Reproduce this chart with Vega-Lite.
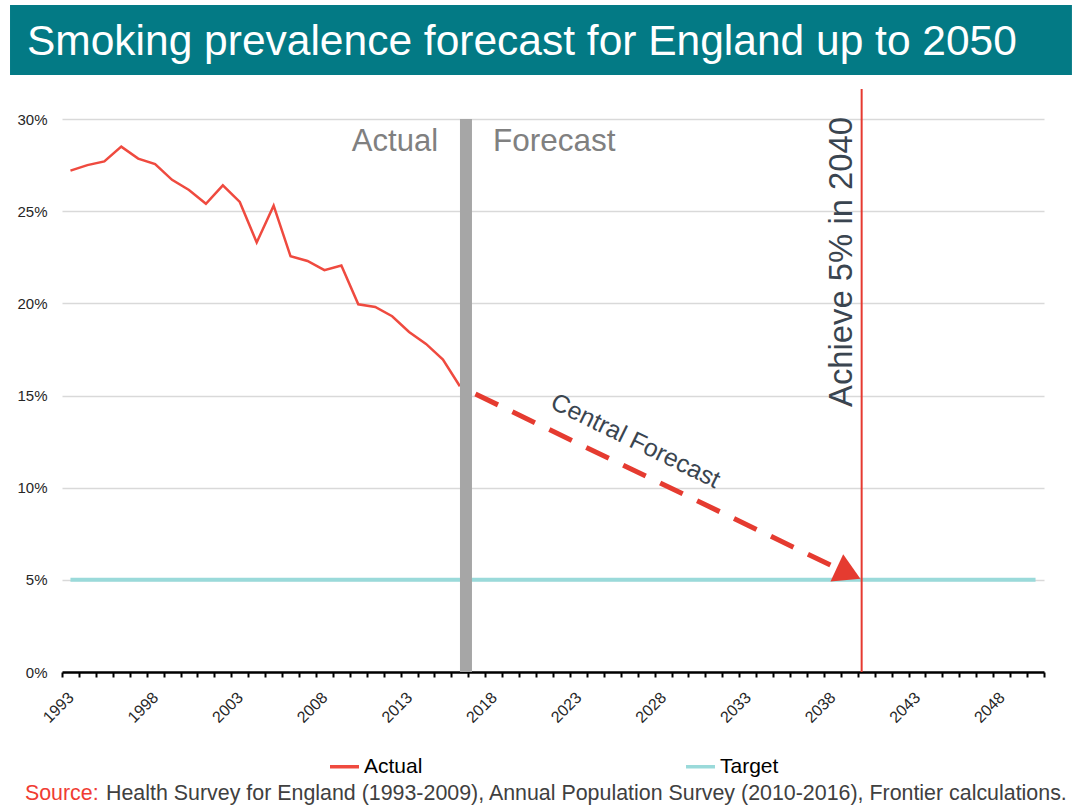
{
  "$schema": "https://vega.github.io/schema/vega-lite/v6.json",
  "width": 982,
  "height": 553,
  "autosize": "none",
  "padding": {"left": 62, "top": 119, "right": 31, "bottom": 139},
  "background": "white",
  "config": {"font": "Liberation Sans", "view": {"stroke": null}},
  "data": {"values": [{}]},
  "datasets": {
    "actual": [
      {"year": 1993, "value": 27.2, "series": "Actual"},
      {"year": 1994, "value": 27.5, "series": "Actual"},
      {"year": 1995, "value": 27.7, "series": "Actual"},
      {"year": 1996, "value": 28.5, "series": "Actual"},
      {"year": 1997, "value": 27.85, "series": "Actual"},
      {"year": 1998, "value": 27.55, "series": "Actual"},
      {"year": 1999, "value": 26.7, "series": "Actual"},
      {"year": 2000, "value": 26.15, "series": "Actual"},
      {"year": 2001, "value": 25.4, "series": "Actual"},
      {"year": 2002, "value": 26.4, "series": "Actual"},
      {"year": 2003, "value": 25.5, "series": "Actual"},
      {"year": 2004, "value": 23.3, "series": "Actual"},
      {"year": 2005, "value": 25.3, "series": "Actual"},
      {"year": 2006, "value": 22.55, "series": "Actual"},
      {"year": 2007, "value": 22.3, "series": "Actual"},
      {"year": 2008, "value": 21.8, "series": "Actual"},
      {"year": 2009, "value": 22.05, "series": "Actual"},
      {"year": 2010, "value": 19.95, "series": "Actual"},
      {"year": 2011, "value": 19.8, "series": "Actual"},
      {"year": 2012, "value": 19.3, "series": "Actual"},
      {"year": 2013, "value": 18.45, "series": "Actual"},
      {"year": 2014, "value": 17.8, "series": "Actual"},
      {"year": 2015, "value": 16.95, "series": "Actual"},
      {"year": 2016, "value": 15.5, "series": "Actual"}
    ],
    "target": [
      {"year": 1993, "value": 5, "series": "Target"},
      {"year": 1994, "value": 5, "series": "Target"},
      {"year": 1995, "value": 5, "series": "Target"},
      {"year": 1996, "value": 5, "series": "Target"},
      {"year": 1997, "value": 5, "series": "Target"},
      {"year": 1998, "value": 5, "series": "Target"},
      {"year": 1999, "value": 5, "series": "Target"},
      {"year": 2000, "value": 5, "series": "Target"},
      {"year": 2001, "value": 5, "series": "Target"},
      {"year": 2002, "value": 5, "series": "Target"},
      {"year": 2003, "value": 5, "series": "Target"},
      {"year": 2004, "value": 5, "series": "Target"},
      {"year": 2005, "value": 5, "series": "Target"},
      {"year": 2006, "value": 5, "series": "Target"},
      {"year": 2007, "value": 5, "series": "Target"},
      {"year": 2008, "value": 5, "series": "Target"},
      {"year": 2009, "value": 5, "series": "Target"},
      {"year": 2010, "value": 5, "series": "Target"},
      {"year": 2011, "value": 5, "series": "Target"},
      {"year": 2012, "value": 5, "series": "Target"},
      {"year": 2013, "value": 5, "series": "Target"},
      {"year": 2014, "value": 5, "series": "Target"},
      {"year": 2015, "value": 5, "series": "Target"},
      {"year": 2016, "value": 5, "series": "Target"},
      {"year": 2017, "value": 5, "series": "Target"},
      {"year": 2018, "value": 5, "series": "Target"},
      {"year": 2019, "value": 5, "series": "Target"},
      {"year": 2020, "value": 5, "series": "Target"},
      {"year": 2021, "value": 5, "series": "Target"},
      {"year": 2022, "value": 5, "series": "Target"},
      {"year": 2023, "value": 5, "series": "Target"},
      {"year": 2024, "value": 5, "series": "Target"},
      {"year": 2025, "value": 5, "series": "Target"},
      {"year": 2026, "value": 5, "series": "Target"},
      {"year": 2027, "value": 5, "series": "Target"},
      {"year": 2028, "value": 5, "series": "Target"},
      {"year": 2029, "value": 5, "series": "Target"},
      {"year": 2030, "value": 5, "series": "Target"},
      {"year": 2031, "value": 5, "series": "Target"},
      {"year": 2032, "value": 5, "series": "Target"},
      {"year": 2033, "value": 5, "series": "Target"},
      {"year": 2034, "value": 5, "series": "Target"},
      {"year": 2035, "value": 5, "series": "Target"},
      {"year": 2036, "value": 5, "series": "Target"},
      {"year": 2037, "value": 5, "series": "Target"},
      {"year": 2038, "value": 5, "series": "Target"},
      {"year": 2039, "value": 5, "series": "Target"},
      {"year": 2040, "value": 5, "series": "Target"},
      {"year": 2041, "value": 5, "series": "Target"},
      {"year": 2042, "value": 5, "series": "Target"},
      {"year": 2043, "value": 5, "series": "Target"},
      {"year": 2044, "value": 5, "series": "Target"},
      {"year": 2045, "value": 5, "series": "Target"},
      {"year": 2046, "value": 5, "series": "Target"},
      {"year": 2047, "value": 5, "series": "Target"},
      {"year": 2048, "value": 5, "series": "Target"},
      {"year": 2049, "value": 5, "series": "Target"},
      {"year": 2050, "value": 5, "series": "Target"}
    ],
    "forecast": [
      {"year": 2016.92, "value": 15.08},
      {"year": 2038.19, "value": 5.67}
    ]
  },
  "layer": [
    {
      "data": {"name": "target"},
      "mark": {"type": "line", "strokeWidth": 4},
      "encoding": {
        "x": {
          "field": "year", "type": "quantitative",
          "scale": {"domain": [1992.5, 2050.5], "nice": false, "zero": false},
          "axis": {
            "title": null,
            "values": [1992.5, 1993.5, 1994.5, 1995.5, 1996.5, 1997.5, 1998.5, 1999.5, 2000.5, 2001.5, 2002.5, 2003.5, 2004.5, 2005.5, 2006.5, 2007.5, 2008.5, 2009.5, 2010.5, 2011.5, 2012.5, 2013.5, 2014.5, 2015.5, 2016.5, 2017.5, 2018.5, 2019.5, 2020.5, 2021.5, 2022.5, 2023.5, 2024.5, 2025.5, 2026.5, 2027.5, 2028.5, 2029.5, 2030.5, 2031.5, 2032.5, 2033.5, 2034.5, 2035.5, 2036.5, 2037.5, 2038.5, 2039.5, 2040.5, 2041.5, 2042.5, 2043.5, 2044.5, 2045.5, 2046.5, 2047.5, 2048.5, 2049.5, 2050.5],
            "tickCount": 200,
            "labelExpr": "(datum.value - 1992.5) % 5 == 0 && datum.value < 2050 ? '' + (datum.value + 0.5) : ''",
            "labelAngle": -45,
            "labelOffset": 3,
            "labelFlush": false,
            "labelOverlap": false,
            "labelFontSize": 16,
            "labelColor": "#262626",
            "labelPadding": 12,
            "grid": false,
            "tickSize": 5,
            "tickWidth": 2,
            "tickColor": "#000000",
            "domainColor": "#000000",
            "domainWidth": 2.5
          }
        },
        "y": {
          "field": "value", "type": "quantitative",
          "scale": {"domain": [0, 30], "nice": false},
          "axis": {
            "title": null,
            "values": [0, 5, 10, 15, 20, 25, 30],
            "labelExpr": "datum.value + '%'",
            "labelFontSize": 15,
            "labelColor": "#262626",
            "labelPadding": 15,
            "domain": false,
            "ticks": false,
            "grid": true,
            "gridColor": "#d9d9d9",
            "gridWidth": 1.5
          }
        },
        "color": {
          "field": "series", "type": "nominal",
          "scale": {"domain": ["Actual", "Target"], "range": ["#ef4a3f", "#9adada"]},
          "legend": {
            "title": null,
            "orient": "none",
            "legendX": 266,
            "legendY": 631,
            "direction": "horizontal",
            "symbolType": "stroke",
            "symbolSize": 841,
            "symbolStrokeWidth": 3.5,
            "labelFontSize": 21,
            "labelColor": "#000000",
            "labelOffset": 3,
            "columnPadding": 256,
            "padding": 0
          }
        }
      }
    },
    {
      "data": {"name": "actual"},
      "mark": {"type": "line", "strokeWidth": 2.5},
      "encoding": {
        "x": {"field": "year", "type": "quantitative"},
        "y": {"field": "value", "type": "quantitative"},
        "color": {"field": "series", "type": "nominal"}
      }
    },
    {
      "mark": {"type": "rule", "color": "#a6a6a6", "strokeWidth": 12},
      "encoding": {
        "x": {"datum": 2016.36, "type": "quantitative"},
        "y": {"datum": 0, "type": "quantitative"},
        "y2": {"datum": 30}
      }
    },
    {
      "mark": {"type": "rule", "color": "#e63a30", "strokeWidth": 2},
      "encoding": {
        "x": {"datum": 2039.73, "type": "quantitative"},
        "y": {"datum": 0, "type": "quantitative"},
        "y2": {"datum": 31.63}
      }
    },
    {
      "data": {"name": "forecast"},
      "mark": {"type": "line", "color": "#e53b30", "strokeWidth": 5, "strokeDash": [25, 16]},
      "encoding": {
        "x": {"field": "year", "type": "quantitative"},
        "y": {"field": "value", "type": "quantitative"}
      }
    },
    {
      "mark": {"type": "point", "shape": "triangle-right", "size": 900, "angle": 25, "filled": true, "color": "#e53b30", "opacity": 1},
      "encoding": {
        "x": {"datum": 2038.96, "type": "quantitative"},
        "y": {"datum": 5.35, "type": "quantitative"}
      }
    },
    {
      "mark": {"type": "rect", "color": "#037a85"},
      "encoding": {
        "x": {"datum": 1989.43, "type": "quantitative"},
        "x2": {"datum": 2052.15},
        "y": {"datum": 36.19, "type": "quantitative"},
        "y2": {"datum": 32.39}
      }
    },
    {
      "mark": {"type": "text", "align": "left", "baseline": "alphabetic", "fontSize": 42.5, "color": "#ffffff"},
      "encoding": {
        "x": {"datum": 1990.43, "type": "quantitative"},
        "y": {"datum": 33.47, "type": "quantitative"},
        "text": {"value": "Smoking prevalence forecast for England up to 2050"}
      }
    },
    {
      "mark": {"type": "text", "align": "right", "baseline": "alphabetic", "fontSize": 31, "color": "#808080"},
      "encoding": {
        "x": {"datum": 2014.71, "type": "quantitative"},
        "y": {"datum": 28.28, "type": "quantitative"},
        "text": {"value": "Actual"}
      }
    },
    {
      "mark": {"type": "text", "align": "left", "baseline": "alphabetic", "fontSize": 31.5, "color": "#808080"},
      "encoding": {
        "x": {"datum": 2017.96, "type": "quantitative"},
        "y": {"datum": 28.28, "type": "quantitative"},
        "text": {"value": "Forecast"}
      }
    },
    {
      "mark": {"type": "text", "align": "center", "baseline": "alphabetic", "fontSize": 25, "angle": 26, "color": "#3a4550"},
      "encoding": {
        "x": {"datum": 2026.17, "type": "quantitative"},
        "y": {"datum": 12.15, "type": "quantitative"},
        "text": {"value": "Central Forecast"}
      }
    },
    {
      "mark": {"type": "text", "align": "left", "baseline": "alphabetic", "fontSize": 32.8, "angle": 270, "color": "#3a4550"},
      "encoding": {
        "x": {"datum": 2039.18, "type": "quantitative"},
        "y": {"datum": 14.38, "type": "quantitative"},
        "text": {"value": "Achieve 5% in 2040"}
      }
    },
    {
      "mark": {"type": "text", "align": "left", "baseline": "alphabetic", "fontSize": 21.4, "color": "#f03c32"},
      "encoding": {
        "x": {"datum": 1990.31, "type": "quantitative"},
        "y": {"datum": -6.94, "type": "quantitative"},
        "text": {"value": "Source:"}
      }
    },
    {
      "mark": {"type": "text", "align": "left", "baseline": "alphabetic", "fontSize": 21.4, "color": "#404040"},
      "encoding": {
        "x": {"datum": 1995.1, "type": "quantitative"},
        "y": {"datum": -6.94, "type": "quantitative"},
        "text": {"value": "Health Survey for England (1993-2009), Annual Population Survey (2010-2016), Frontier calculations."}
      }
    }
  ]
}
